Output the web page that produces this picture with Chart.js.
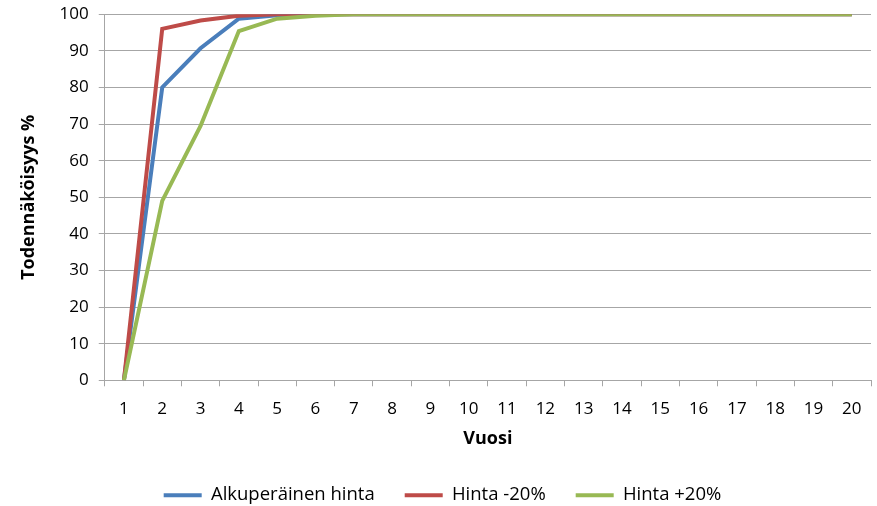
<!DOCTYPE html>
<html>
<head>
<meta charset="utf-8">
<script src="https://cdn.jsdelivr.net/npm/chart.js@4/dist/chart.umd.min.js"></script>
<style>
  html, body { margin: 0; padding: 0; background: #fff; }
  #wrap { width: 877px; height: 506px; }
</style>
</head>
<body>
<div id="wrap"><canvas id="chart"></canvas></div>
<script>
// Vuodet
const years = ['1','2','3','4','5','6','7','8','9','10','11','12','13','14','15','16','17','18','19','20'];

// Todennäköisyys % per sarja
const alkuperainen = [0, 80, 90.7, 98.8, 99.7, 100, 100, 100, 100, 100, 100, 100, 100, 100, 100, 100, 100, 100, 100, 100];
const hintaMinus20 = [0, 96, 98.3, 99.6, 100, 100, 100, 100, 100, 100, 100, 100, 100, 100, 100, 100, 100, 100, 100, 100];
const hintaPlus20  = [0, 49, 69.5, 95.4, 98.8, 99.6, 100, 100, 100, 100, 100, 100, 100, 100, 100, 100, 100, 100, 100, 100];

const FONT = 'Open Sans';
const GRID = '#a6a6a6';

function serie(label, data, color) {
    return {
        label: label,
        data: data,
        borderColor: color,
        backgroundColor: color,
        borderWidth: 4,
        pointRadius: 0,
        tension: 0,
        fill: false
    };
}

// viimeinen sarja piirretään päällimmäiseksi, joten järjestys käännetään ja legenda takaisin
new Chart(document.getElementById('chart').getContext('2d'), {
    type: 'line',
    data: {
        labels: years,
        datasets: [
            serie('Hinta +20%', hintaPlus20, '#98b954'),
            serie('Hinta -20%', hintaMinus20, '#be4b48'),
            serie('Alkuperäinen hinta', alkuperainen, '#4a7ebb')
        ]
    },
    options: {
        responsive: true,
        maintainAspectRatio: false,
        animation: false,
        layout: { padding: { left: 14, right: 6, top: 2, bottom: -8.4 } },
        scales: {
            x: {
                offset: true,
                grid: { offset: true, drawOnChartArea: false, drawTicks: true, tickLength: 6, color: GRID },
                border: { color: GRID },
                ticks: { color: '#000', font: { family: FONT, size: 17, lineHeight: 1.3 }, padding: 12, maxRotation: 0, autoSkip: false },
                title: { display: true, text: 'Vuosi', color: '#000', font: { family: FONT, size: 18, weight: 'bold', lineHeight: 0.667 }, padding: { top: 0, bottom: 11.5 } }
            },
            y: {
                min: 0,
                max: 100,
                ticks: { stepSize: 10, color: '#000', font: { family: FONT, size: 17, lineHeight: 0.5 }, padding: 10 },
                grid: { color: GRID, tickLength: 6 },
                border: { color: GRID },
                title: { display: true, text: 'Todennäköisyys %', color: '#000', font: { family: FONT, size: 18, weight: 'bold' }, padding: { bottom: 10 } }
            }
        },
        plugins: {
            legend: {
                position: 'bottom',
                reverse: true,
                labels: {
                    usePointStyle: true,
                    pointStyle: 'line',
                    pointStyleWidth: 38,
                    padding: 30,
                    color: '#000',
                    font: { family: FONT, size: 18.5 }
                }
            },
            tooltip: { enabled: false }
        }
    }
});
</script>
</body>
</html>
